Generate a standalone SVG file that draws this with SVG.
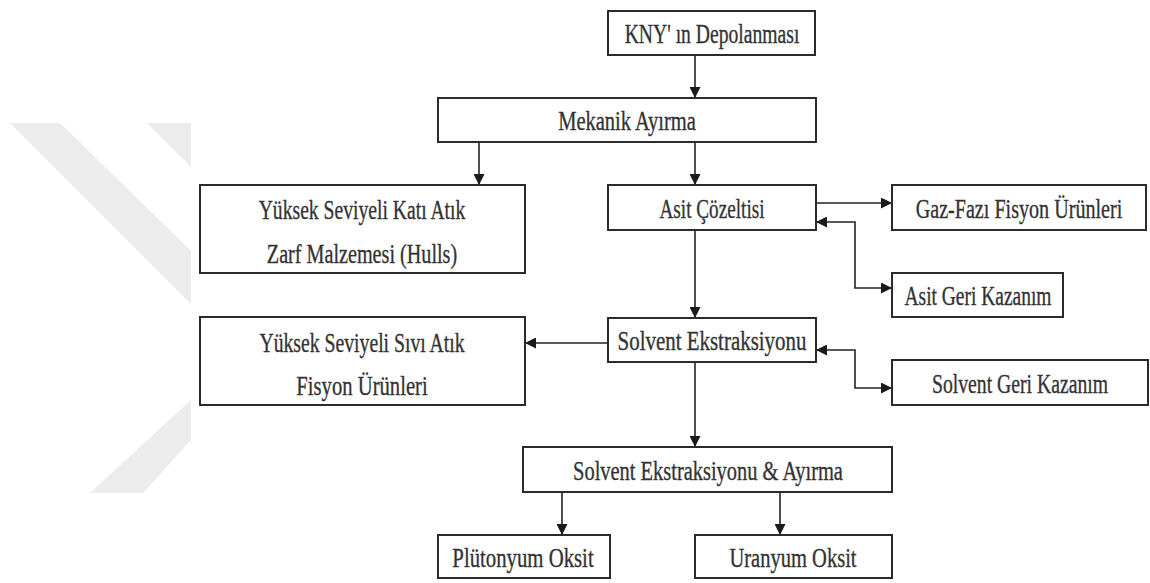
<svg xmlns="http://www.w3.org/2000/svg" width="1150" height="583" viewBox="0 0 1150 583">
<style>
.box{fill:#fff;stroke:#2b2b2b;stroke-width:2}
.t{font-family:"Liberation Serif",serif;font-size:28px;fill:#333;stroke:#333;stroke-width:0.35;text-anchor:middle}
.c{fill:none;stroke:#222;stroke-width:1.6}
.wm{fill:#ececec}
</style>
<defs>
<marker id="ah" markerUnits="userSpaceOnUse" viewBox="0 0 10 10" markerWidth="13" markerHeight="11" refX="10" refY="5" orient="auto-start-reverse">
<path d="M0,0 L10,5 L0,10 z" fill="#1a1a1a"/>
</marker>
</defs>
<rect width="1150" height="583" fill="#fff"/>
<g id="watermark">
<polygon class="wm" points="10,123 60,123 191,251 191,304"/>
<polygon class="wm" points="147,123 191,123 191,167"/>
<polygon class="wm" points="191,400 191,440 143,493 90,493"/>
</g>
<g id="connectors">
<line class="c" x1="695" y1="55" x2="695" y2="98" marker-end="url(#ah)"/>
<line class="c" x1="479" y1="142" x2="479" y2="185" marker-end="url(#ah)"/>
<line class="c" x1="695" y1="142" x2="695" y2="185" marker-end="url(#ah)"/>
<line class="c" x1="816" y1="203" x2="892" y2="203" marker-end="url(#ah)"/>
<polyline class="c" points="816,222 855,222 855,288 892,288" marker-start="url(#ah)" marker-end="url(#ah)"/>
<line class="c" x1="695" y1="230" x2="695" y2="318" marker-end="url(#ah)"/>
<line class="c" x1="608" y1="343" x2="525" y2="343" marker-end="url(#ah)"/>
<polyline class="c" points="816,350 855,350 855,388 892,388" marker-start="url(#ah)" marker-end="url(#ah)"/>
<line class="c" x1="695" y1="362" x2="695" y2="447" marker-end="url(#ah)"/>
<line class="c" x1="562" y1="492" x2="562" y2="535" marker-end="url(#ah)"/>
<line class="c" x1="780" y1="492" x2="780" y2="535" marker-end="url(#ah)"/>
</g>
<g id="kny">
<rect class="box" x="608" y="11" width="207" height="44"/>
<text class="t" transform="translate(712,43) scale(0.71,1)" textLength="246" lengthAdjust="spacingAndGlyphs">KNY' ın Depolanması</text>
</g>
<g id="mekanik">
<rect class="box" x="438" y="98" width="378" height="44"/>
<text class="t" transform="translate(627,130) scale(0.71,1)" textLength="194" lengthAdjust="spacingAndGlyphs">Mekanik Ayırma</text>
</g>
<g id="kati">
<rect class="box" x="200" y="185" width="325" height="88"/>
<text class="t" transform="translate(362,219) scale(0.71,1)" textLength="291" lengthAdjust="spacingAndGlyphs">Yüksek Seviyeli Katı Atık</text>
<text class="t" transform="translate(362,263) scale(0.71,1)" textLength="268" lengthAdjust="spacingAndGlyphs">Zarf Malzemesi (Hulls)</text>
</g>
<g id="asit">
<rect class="box" x="608" y="185" width="208" height="45"/>
<text class="t" transform="translate(712,218) scale(0.71,1)" textLength="148" lengthAdjust="spacingAndGlyphs">Asit Çözeltisi</text>
</g>
<g id="gaz">
<rect class="box" x="892" y="185" width="254" height="45"/>
<text class="t" transform="translate(1019,218) scale(0.71,1)" textLength="291" lengthAdjust="spacingAndGlyphs">Gaz-Fazı Fisyon Ürünleri</text>
</g>
<g id="asitgeri">
<rect class="box" x="892" y="273" width="171" height="44"/>
<text class="t" transform="translate(978,305) scale(0.71,1)" textLength="207" lengthAdjust="spacingAndGlyphs">Asit Geri Kazanım</text>
</g>
<g id="sivi">
<rect class="box" x="200" y="317" width="325" height="88"/>
<text class="t" transform="translate(362,352) scale(0.71,1)" textLength="289" lengthAdjust="spacingAndGlyphs">Yüksek Seviyeli Sıvı Atık</text>
<text class="t" transform="translate(362,395) scale(0.71,1)" textLength="185" lengthAdjust="spacingAndGlyphs">Fisyon Ürünleri</text>
</g>
<g id="solvent">
<rect class="box" x="608" y="318" width="208" height="44"/>
<text class="t" transform="translate(712,350) scale(0.71,1)" textLength="266" lengthAdjust="spacingAndGlyphs">Solvent Ekstraksiyonu</text>
</g>
<g id="solventgeri">
<rect class="box" x="892" y="360" width="256" height="45"/>
<text class="t" transform="translate(1020,393) scale(0.71,1)" textLength="248" lengthAdjust="spacingAndGlyphs">Solvent Geri Kazanım</text>
</g>
<g id="ayirma">
<rect class="box" x="523" y="447" width="369" height="45"/>
<text class="t" transform="translate(708,480) scale(0.71,1)" textLength="380" lengthAdjust="spacingAndGlyphs">Solvent Ekstraksiyonu &amp; Ayırma</text>
</g>
<g id="plutonyum">
<rect class="box" x="438" y="535" width="172" height="43"/>
<text class="t" transform="translate(523,567) scale(0.71,1)" textLength="199" lengthAdjust="spacingAndGlyphs">Plütonyum Oksit</text>
</g>
<g id="uranyum">
<rect class="box" x="695" y="535" width="197" height="43"/>
<text class="t" transform="translate(793,567) scale(0.71,1)" textLength="179" lengthAdjust="spacingAndGlyphs">Uranyum Oksit</text>
</g>
</svg>
